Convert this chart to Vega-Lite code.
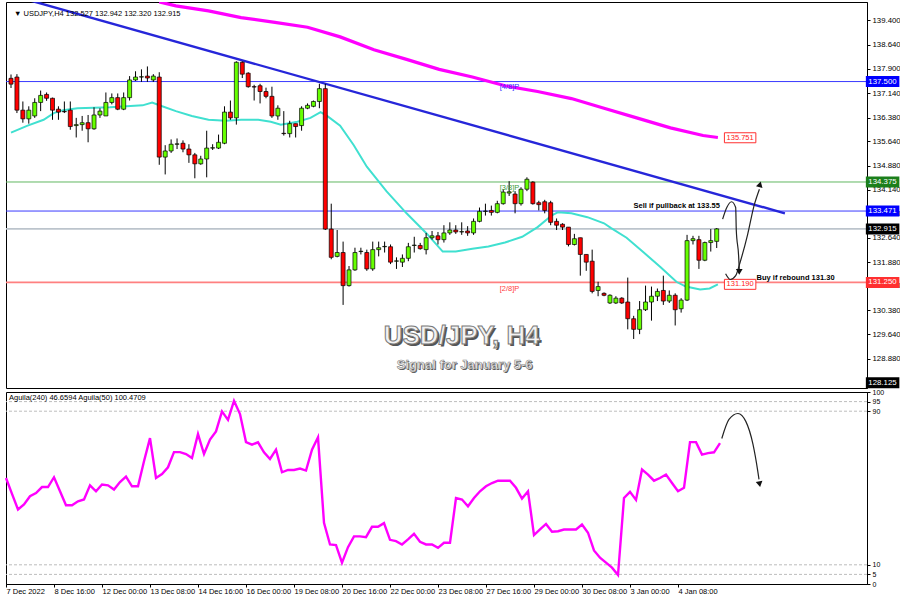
{
"$schema":"https://vega.github.io/schema/vega-lite/v6.json",
"background":"white",
"padding":{"top":1,"left":0,"right":0,"bottom":0},
"spacing":4,
"bounds":"flush",
"config":{
 "view":{"stroke":"#000000","strokeWidth":1},
 "font":"Liberation Sans",
 "axis":{"labelFont":"Liberation Sans","labelFontSize":7.5,"labelColor":"#000000","domainColor":"#000000","tickColor":"#000000","grid":false,"labelOverlap":false,"labelFlush":false}
},
"datasets":{
 "candles":[
  {"i":0,"o":137.6,"h":137.72,"l":137.3,"c":137.42},
  {"i":1,"o":137.64,"h":137.73,"l":136.52,"c":136.61},
  {"i":2,"o":136.61,"h":136.88,"l":136.22,"c":136.34},
  {"i":3,"o":136.34,"h":136.73,"l":136.19,"c":136.61},
  {"i":4,"o":136.43,"h":136.98,"l":136.37,"c":136.85},
  {"i":5,"o":136.85,"h":137.22,"l":136.58,"c":137.07},
  {"i":6,"o":137.1,"h":137.16,"l":136.9,"c":136.98},
  {"i":7,"o":136.98,"h":137.0,"l":136.31,"c":136.61},
  {"i":8,"o":136.64,"h":136.73,"l":136.31,"c":136.55},
  {"i":9,"o":136.57,"h":136.88,"l":136.52,"c":136.56},
  {"i":10,"o":136.61,"h":136.88,"l":136.0,"c":136.1},
  {"i":11,"o":136.13,"h":136.37,"l":135.76,"c":136.16},
  {"i":12,"o":136.16,"h":136.43,"l":135.97,"c":136.22},
  {"i":13,"o":136.22,"h":136.46,"l":135.61,"c":136.03},
  {"i":14,"o":136.03,"h":136.7,"l":136.0,"c":136.46},
  {"i":15,"o":136.46,"h":136.67,"l":136.37,"c":136.58},
  {"i":16,"o":136.43,"h":137.16,"l":136.43,"c":136.85},
  {"i":17,"o":136.85,"h":137.13,"l":136.79,"c":137.0},
  {"i":18,"o":137.0,"h":137.13,"l":136.61,"c":136.64},
  {"i":19,"o":136.64,"h":137.16,"l":136.61,"c":137.0},
  {"i":20,"o":137.0,"h":137.67,"l":136.91,"c":137.55},
  {"i":21,"o":137.55,"h":137.82,"l":137.52,"c":137.64},
  {"i":22,"o":137.64,"h":137.88,"l":137.49,"c":137.65},
  {"i":23,"o":137.67,"h":137.97,"l":137.49,"c":137.61},
  {"i":24,"o":137.55,"h":137.73,"l":137.49,"c":137.67},
  {"i":25,"o":137.64,"h":137.79,"l":134.91,"c":135.15},
  {"i":26,"o":135.15,"h":135.52,"l":134.61,"c":135.34},
  {"i":27,"o":135.34,"h":135.7,"l":135.28,"c":135.55},
  {"i":28,"o":135.55,"h":135.73,"l":135.4,"c":135.56},
  {"i":29,"o":135.58,"h":135.67,"l":135.3,"c":135.4},
  {"i":30,"o":135.4,"h":135.55,"l":134.97,"c":135.22},
  {"i":31,"o":135.22,"h":135.28,"l":134.49,"c":134.94},
  {"i":32,"o":134.94,"h":135.19,"l":134.91,"c":135.09},
  {"i":33,"o":135.09,"h":135.97,"l":134.52,"c":135.43},
  {"i":34,"o":135.43,"h":135.55,"l":135.37,"c":135.44},
  {"i":35,"o":135.43,"h":135.85,"l":135.4,"c":135.61},
  {"i":36,"o":135.58,"h":136.73,"l":135.55,"c":136.55},
  {"i":37,"o":136.55,"h":136.91,"l":136.31,"c":136.37},
  {"i":38,"o":136.37,"h":138.13,"l":136.16,"c":138.1},
  {"i":39,"o":138.1,"h":138.13,"l":137.61,"c":137.73},
  {"i":40,"o":137.76,"h":137.79,"l":137.31,"c":137.34},
  {"i":41,"o":137.34,"h":137.4,"l":136.91,"c":137.33},
  {"i":42,"o":137.37,"h":137.43,"l":136.82,"c":137.19},
  {"i":43,"o":137.19,"h":137.31,"l":136.98,"c":137.04},
  {"i":44,"o":137.04,"h":137.34,"l":136.37,"c":136.43},
  {"i":45,"o":136.43,"h":136.76,"l":136.31,"c":136.67},
  {"i":46,"o":135.89,"h":136.58,"l":135.82,"c":135.88},
  {"i":47,"o":135.88,"h":136.28,"l":135.76,"c":136.19},
  {"i":48,"o":136.19,"h":136.19,"l":135.76,"c":136.1},
  {"i":49,"o":136.13,"h":136.73,"l":135.97,"c":136.67},
  {"i":50,"o":136.67,"h":136.82,"l":136.64,"c":136.76},
  {"i":51,"o":136.73,"h":136.91,"l":136.7,"c":136.88},
  {"i":52,"o":136.88,"h":137.43,"l":136.67,"c":137.28},
  {"i":53,"o":137.28,"h":137.43,"l":132.88,"c":132.91},
  {"i":54,"o":132.91,"h":133.7,"l":131.97,"c":132.03},
  {"i":55,"o":132.06,"h":132.88,"l":132.03,"c":132.18},
  {"i":56,"o":132.18,"h":132.52,"l":130.55,"c":131.15},
  {"i":57,"o":131.15,"h":131.76,"l":131.12,"c":131.64},
  {"i":58,"o":131.64,"h":132.33,"l":131.61,"c":132.18},
  {"i":59,"o":132.21,"h":132.33,"l":132.12,"c":132.22},
  {"i":60,"o":132.18,"h":132.27,"l":131.61,"c":131.67},
  {"i":61,"o":131.67,"h":132.52,"l":131.61,"c":132.27},
  {"i":62,"o":132.27,"h":132.52,"l":132.06,"c":132.33},
  {"i":63,"o":132.36,"h":132.52,"l":132.18,"c":132.37},
  {"i":64,"o":132.36,"h":132.43,"l":131.82,"c":131.88},
  {"i":65,"o":131.91,"h":132.03,"l":131.67,"c":131.92},
  {"i":66,"o":131.88,"h":132.12,"l":131.73,"c":132.0},
  {"i":67,"o":132.0,"h":132.48,"l":131.91,"c":132.36},
  {"i":68,"o":132.4,"h":132.67,"l":132.18,"c":132.41},
  {"i":69,"o":132.4,"h":132.48,"l":132.27,"c":132.3},
  {"i":70,"o":132.27,"h":132.79,"l":132.12,"c":132.64},
  {"i":71,"o":132.64,"h":132.85,"l":132.58,"c":132.7},
  {"i":72,"o":132.7,"h":132.82,"l":132.43,"c":132.58},
  {"i":73,"o":132.58,"h":133.03,"l":132.49,"c":132.79},
  {"i":74,"o":132.79,"h":133.12,"l":132.73,"c":132.88},
  {"i":75,"o":132.88,"h":133.03,"l":132.76,"c":132.82},
  {"i":76,"o":132.82,"h":133.12,"l":132.73,"c":132.83},
  {"i":77,"o":132.85,"h":133.0,"l":132.7,"c":132.79},
  {"i":78,"o":132.79,"h":133.24,"l":132.73,"c":133.15},
  {"i":79,"o":133.15,"h":133.58,"l":133.12,"c":133.46},
  {"i":80,"o":133.46,"h":133.7,"l":133.33,"c":133.47},
  {"i":81,"o":133.49,"h":133.64,"l":133.33,"c":133.43},
  {"i":82,"o":133.43,"h":133.79,"l":133.4,"c":133.7},
  {"i":83,"o":133.7,"h":134.15,"l":133.67,"c":134.06},
  {"i":84,"o":134.03,"h":134.4,"l":133.94,"c":134.07},
  {"i":85,"o":134.0,"h":134.09,"l":133.4,"c":133.7},
  {"i":86,"o":133.7,"h":134.21,"l":133.64,"c":134.15},
  {"i":87,"o":134.15,"h":134.52,"l":134.09,"c":134.46},
  {"i":88,"o":134.37,"h":134.4,"l":133.67,"c":133.7},
  {"i":89,"o":133.73,"h":133.79,"l":133.49,"c":133.67},
  {"i":90,"o":133.76,"h":133.82,"l":133.4,"c":133.49},
  {"i":91,"o":133.73,"h":133.79,"l":133.03,"c":133.12},
  {"i":92,"o":133.15,"h":133.24,"l":132.88,"c":133.03},
  {"i":93,"o":133.06,"h":133.09,"l":132.88,"c":132.97},
  {"i":94,"o":132.97,"h":132.97,"l":132.37,"c":132.43},
  {"i":95,"o":132.43,"h":132.76,"l":132.4,"c":132.61},
  {"i":96,"o":132.64,"h":132.64,"l":131.46,"c":132.12},
  {"i":97,"o":132.12,"h":132.12,"l":131.61,"c":131.88},
  {"i":98,"o":131.91,"h":132.27,"l":130.91,"c":130.97},
  {"i":99,"o":131.0,"h":131.27,"l":130.82,"c":131.12},
  {"i":100,"o":130.91,"h":130.94,"l":130.82,"c":130.85},
  {"i":101,"o":130.61,"h":130.88,"l":130.58,"c":130.85},
  {"i":102,"o":130.61,"h":130.82,"l":130.58,"c":130.76},
  {"i":103,"o":130.76,"h":130.79,"l":130.58,"c":130.61},
  {"i":104,"o":130.64,"h":131.4,"l":129.79,"c":130.12},
  {"i":105,"o":130.12,"h":130.21,"l":129.49,"c":129.79},
  {"i":106,"o":129.79,"h":130.67,"l":129.64,"c":130.4},
  {"i":107,"o":130.4,"h":131.15,"l":130.36,"c":130.64},
  {"i":108,"o":130.64,"h":131.12,"l":130.06,"c":130.82},
  {"i":109,"o":130.82,"h":131.06,"l":130.67,"c":130.97},
  {"i":110,"o":131.0,"h":131.46,"l":130.55,"c":130.67},
  {"i":111,"o":130.67,"h":131.0,"l":130.61,"c":130.85},
  {"i":112,"o":130.85,"h":130.91,"l":129.91,"c":130.4},
  {"i":113,"o":130.43,"h":130.76,"l":130.31,"c":130.7},
  {"i":114,"o":130.7,"h":132.73,"l":130.67,"c":132.55},
  {"i":115,"o":132.55,"h":132.7,"l":132.43,"c":132.61},
  {"i":116,"o":132.58,"h":132.7,"l":131.67,"c":131.94},
  {"i":117,"o":131.94,"h":132.52,"l":131.91,"c":132.49},
  {"i":118,"o":132.49,"h":132.91,"l":132.21,"c":132.55},
  {"i":119,"o":132.527,"h":132.942,"l":132.32,"c":132.915}
 ],
 "ma240":[
  {"i":25,"p":139.98},{"i":27.8,"p":139.855},{"i":33.3,"p":139.7},{"i":38.8,"p":139.49},{"i":44.5,"p":139.34},{"i":50,"p":139.19},{"i":55.5,"p":138.89},{"i":61.2,"p":138.49},{"i":66.7,"p":138.19},{"i":72.2,"p":137.88},{"i":77.8,"p":137.64},{"i":83.3,"p":137.37},{"i":88.8,"p":137.19},{"i":94.5,"p":136.97},{"i":100,"p":136.67},{"i":105.5,"p":136.37},{"i":111.2,"p":136.06},{"i":116.7,"p":135.82},{"i":119.2,"p":135.76}
 ],
 "ma50":[
  {"i":0,"p":135.91},{"i":2.8,"p":136.13},{"i":5.5,"p":136.31},{"i":7.2,"p":136.52},{"i":8.8,"p":136.61},{"i":11.2,"p":136.67},{"i":16.7,"p":136.7},{"i":22.2,"p":136.76},{"i":23.8,"p":136.85},{"i":25.5,"p":136.73},{"i":27.8,"p":136.58},{"i":30.5,"p":136.43},{"i":33.3,"p":136.31},{"i":36.2,"p":136.28},{"i":38.8,"p":136.31},{"i":41.7,"p":136.31},{"i":43.8,"p":136.25},{"i":45.5,"p":136.16},{"i":48.3,"p":136.25},{"i":50.5,"p":136.37},{"i":52.2,"p":136.55},{"i":53.3,"p":136.43},{"i":55.5,"p":136.13},{"i":57.8,"p":135.52},{"i":60,"p":134.85},{"i":63.3,"p":134.09},{"i":66.7,"p":133.4},{"i":70,"p":132.79},{"i":72.8,"p":132.21},{"i":75,"p":132.21},{"i":77.8,"p":132.3},{"i":80.5,"p":132.37},{"i":83.3,"p":132.49},{"i":86.2,"p":132.67},{"i":88.8,"p":132.97},{"i":91.2,"p":133.34},{"i":92.2,"p":133.43},{"i":94.5,"p":133.4},{"i":97.2,"p":133.28},{"i":100,"p":133.09},{"i":101.2,"p":132.94},{"i":103.8,"p":132.64},{"i":106.7,"p":132.18},{"i":109.5,"p":131.73},{"i":112.2,"p":131.27},{"i":113.8,"p":131.12},{"i":116.2,"p":131.03},{"i":117.8,"p":131.06},{"i":119.2,"p":131.19}
 ],
 "trend":[{"i":0,"p":140.19},{"i":130.5,"p":133.4}],
 "arrows":[
  {"s":"sell","i":120.0,"p":133.22},{"s":"sell","i":120.7,"p":133.58},{"s":"sell","i":121.5,"p":133.76},{"s":"sell","i":122.2,"p":133.58},{"s":"sell","i":122.3,"p":132.88},{"s":"sell","i":122.7,"p":132.06},{"s":"sell","i":122.8,"p":131.67},
  {"s":"buy","i":120.5,"p":131.52},{"s":"buy","i":121.3,"p":131.34},{"s":"buy","i":122.2,"p":131.46},{"s":"buy","i":123.0,"p":131.91},{"s":"buy","i":124.2,"p":132.73},{"s":"buy","i":125.3,"p":133.64},{"s":"buy","i":126.2,"p":134.15}
 ],
 "osc":[
  {"i":0,"v":55.2},{"i":1,"v":46.9},{"i":2,"v":38.8},{"i":3,"v":41.4},{"i":4,"v":45.7},{"i":5,"v":47.4},{"i":6,"v":50.5},{"i":7,"v":50.5},{"i":8,"v":55.6},{"i":9,"v":48.3},{"i":10,"v":41.0},{"i":11,"v":41.0},{"i":12,"v":43.1},{"i":13,"v":44.0},{"i":14,"v":51.4},{"i":15,"v":48.3},{"i":16,"v":51.8},{"i":17,"v":51.4},{"i":18,"v":49.2},{"i":19,"v":53.1},{"i":20,"v":55.9},{"i":21,"v":50.9},{"i":22,"v":50.9},{"i":23,"v":63.9},{"i":24,"v":76.0},{"i":25,"v":55.2},{"i":26,"v":57.3},{"i":27,"v":60.8},{"i":28,"v":68.7},{"i":29,"v":68.7},{"i":30,"v":67.7},{"i":31,"v":65.6},{"i":32,"v":78.1},{"i":33,"v":67.7},{"i":34,"v":75.2},{"i":35,"v":79.5},{"i":36,"v":89.9},{"i":37,"v":85.5},{"i":38,"v":95.4},{"i":39,"v":88.5},{"i":40,"v":73.9},{"i":41,"v":72.6},{"i":42,"v":73.8},{"i":43,"v":68.6},{"i":44,"v":65.1},{"i":45,"v":70.0},{"i":46,"v":58.2},{"i":47,"v":59.4},{"i":48,"v":59.4},{"i":49,"v":60.1},{"i":50,"v":59.1},{"i":51,"v":70.0},{"i":52,"v":76.4},{"i":53,"v":31.9},{"i":54,"v":20.6},{"i":55,"v":20.3},{"i":56,"v":11.1},{"i":57,"v":19.2},{"i":58,"v":24.8},{"i":59,"v":24.8},{"i":60,"v":24.4},{"i":61,"v":29.8},{"i":62,"v":29.8},{"i":63,"v":31.7},{"i":64,"v":23.0},{"i":65,"v":22.3},{"i":66,"v":20.6},{"i":67,"v":23.2},{"i":68,"v":26.1},{"i":69,"v":22.0},{"i":70,"v":20.6},{"i":71,"v":20.6},{"i":72,"v":18.8},{"i":73,"v":21.5},{"i":74,"v":21.5},{"i":75,"v":44.8},{"i":76,"v":44.0},{"i":77,"v":40.5},{"i":78,"v":44.8},{"i":79,"v":48.3},{"i":80,"v":50.9},{"i":81,"v":52.6},{"i":82,"v":53.8},{"i":83,"v":53.8},{"i":84,"v":53.8},{"i":85,"v":50.1},{"i":86,"v":44.5},{"i":87,"v":48.3},{"i":88,"v":25.5},{"i":89,"v":28.4},{"i":90,"v":31.3},{"i":91,"v":27.2},{"i":92,"v":27.5},{"i":93,"v":28.4},{"i":94,"v":28.4},{"i":95,"v":28.4},{"i":96,"v":31.0},{"i":97,"v":26.7},{"i":98,"v":17.5},{"i":99,"v":13.7},{"i":100,"v":11.1},{"i":101,"v":8.5},{"i":102,"v":4.7},{"i":103,"v":44.8},{"i":104,"v":48.0},{"i":105,"v":43.8},{"i":106,"v":59.6},{"i":107,"v":57.0},{"i":108,"v":53.8},{"i":109,"v":55.2},{"i":110,"v":57.0},{"i":111,"v":52.6},{"i":112,"v":48.3},{"i":113,"v":50.1},{"i":114,"v":73.9},{"i":115,"v":73.9},{"i":116,"v":67.4},{"i":117,"v":68.2},{"i":118,"v":68.6},{"i":119,"v":73.4}
 ],
 "oscArrow":[
  {"i":119.3,"v":75.8},{"i":120.5,"v":85.7},{"i":122.0,"v":88.8},{"i":123.3,"v":84.7},{"i":124.5,"v":72.7},{"i":125.3,"v":58.7},{"i":125.5,"v":54.5}
 ]
},
"vconcat":[
 {
  "width":861,"height":386,
  "layer":[
   {"data":{"values":[{"p":137.5}]},"mark":{"type":"rule","color":"#3a3aff","strokeWidth":1},
    "encoding":{"y":{"field":"p","type":"quantitative","title":null,
      "scale":{"domain":[128.12,139.82],"nice":false,"zero":false},
      "axis":{"orient":"right","values":[139.4,138.64,137.9,137.14,136.38,135.64,134.88,134.14,133.38,132.64,131.88,131.14,130.38,129.64,128.88],"tickCount":100,"format":".3f","tickSize":3,"labelPadding":2,"labelOverlap":false,"labelFontSize":7.8}}}},
   {"data":{"values":[{"p":134.375}]},"mark":{"type":"rule","color":"#62b862","strokeWidth":1},"encoding":{"y":{"field":"p","type":"quantitative","title":null}}},
   {"data":{"values":[{"p":133.471}]},"mark":{"type":"rule","color":"#3a3aff","strokeWidth":1},"encoding":{"y":{"field":"p","type":"quantitative","title":null}}},
   {"data":{"values":[{"p":132.915}]},"mark":{"type":"rule","color":"#bcc4cc","strokeWidth":1.6},"encoding":{"y":{"field":"p","type":"quantitative","title":null}}},
   {"data":{"values":[{"p":131.25}]},"mark":{"type":"rule","color":"#ff8080","strokeWidth":1.6},"encoding":{"y":{"field":"p","type":"quantitative","title":null}}},
   {"data":{"name":"ma50"},"mark":{"type":"line","color":"#40e0d0","strokeWidth":2,"clip":true},
    "encoding":{"x":{"field":"i","type":"quantitative","title":null,"scale":{"domain":[0,143.5],"nice":false,"zero":false},"axis":null},
     "y":{"field":"p","type":"quantitative","title":null}}},
   {"data":{"name":"ma240"},"mark":{"type":"line","color":"#ff00ff","strokeWidth":3.2,"clip":true},
    "encoding":{"x":{"field":"i","type":"quantitative","title":null},"y":{"field":"p","type":"quantitative","title":null}}},
   {"data":{"name":"trend"},"mark":{"type":"line","color":"#2626d9","strokeWidth":2.4,"clip":true},
    "encoding":{"x":{"field":"i","type":"quantitative","title":null},"y":{"field":"p","type":"quantitative","title":null}}},
   {"data":{"name":"candles"},"mark":{"type":"rule","color":"#000000","strokeWidth":1,"clip":true},
    "encoding":{"x":{"field":"i","type":"quantitative","title":null},"y":{"field":"l","type":"quantitative","title":null},"y2":{"field":"h"}}},
   {"data":{"name":"candles"},"mark":{"type":"bar","width":4,"stroke":"#000000","strokeWidth":0.7,"clip":true},
    "encoding":{"x":{"field":"i","type":"quantitative","title":null},"y":{"field":"o","type":"quantitative","title":null},"y2":{"field":"c"},
     "fill":{"condition":{"test":"datum.c >= datum.o","value":"#66ff00"},"value":"#ff0000"}}},
   {"data":{"values":[{"t":"[4/8]P","p":137.28},{"t":"[3/8]P","p":134.12},{"t":"[2/8]P","p":130.97}]},
    "mark":{"type":"text","align":"left","baseline":"alphabetic","fontSize":7.5},
    "encoding":{"x":{"datum":82.4,"type":"quantitative"},"y":{"field":"p","type":"quantitative","title":null},"text":{"field":"t"},
     "color":{"field":"t","type":"nominal","scale":{"domain":["[4/8]P","[3/8]P","[2/8]P"],"range":["#3030ff","#3a9a3a","#ff4040"]},"legend":null}}},
   {"data":{"values":[{"p":135.751},{"p":131.19}]},"mark":{"type":"bar","height":10,"fill":"#ffffff","stroke":"#ff3030","strokeWidth":1},
    "encoding":{"x":{"datum":120.3,"type":"quantitative"},"x2":{"datum":125.6},"y":{"field":"p","type":"quantitative","title":null}}},
   {"data":{"values":[{"p":135.751},{"p":131.19}]},"mark":{"type":"text","align":"center","baseline":"middle","fontSize":7.5,"color":"#ff2020"},
    "encoding":{"x":{"datum":122.95,"type":"quantitative"},"y":{"field":"p","type":"quantitative","title":null},"text":{"field":"p","type":"quantitative","format":".3f"}}},
   {"data":{"values":[{"p":137.5,"k":"blue"},{"p":134.375,"k":"green"},{"p":133.471,"k":"blue"},{"p":132.915,"k":"black"},{"p":131.25,"k":"red"},{"p":128.125,"k":"black"}]},
    "mark":{"type":"bar","height":11},
    "encoding":{"x":{"datum":144.15,"type":"quantitative"},"x2":{"datum":149.8},"y":{"field":"p","type":"quantitative","title":null},
     "fill":{"field":"k","type":"nominal","scale":{"domain":["blue","green","black","red"],"range":["#0000ff","#1b7f1b","#000000","#ff3030"]},"legend":null}}},
   {"data":{"values":[{"p":137.5},{"p":134.375},{"p":133.471},{"p":132.915},{"p":131.25},{"p":128.125}]},
    "mark":{"type":"text","align":"center","baseline":"middle","fontSize":7.8,"color":"#ffffff"},
    "encoding":{"x":{"datum":146.95,"type":"quantitative"},"y":{"field":"p","type":"quantitative","title":null},"text":{"field":"p","type":"quantitative","format":".3f"}}},
   {"data":{"values":[{"t":"▼ USDJPY,H4 132.527 132.942 132.320 132.915"}]},
    "mark":{"type":"text","align":"left","baseline":"middle","fontSize":7.5,"color":"#000000"},
    "encoding":{"x":{"datum":0.5,"type":"quantitative"},"y":{"datum":139.6,"type":"quantitative"},"text":{"field":"t"}}},
   {"data":{"values":[{"t":"Sell if pullback at 133.55"}]},
    "mark":{"type":"text","align":"center","baseline":"alphabetic","fontSize":7.5,"fontWeight":"bold","color":"#000000"},
    "encoding":{"x":{"datum":112.25,"type":"quantitative"},"y":{"datum":133.58,"type":"quantitative"},"text":{"field":"t"}}},
   {"data":{"values":[{"t":"Buy if rebound 131.30"}]},
    "mark":{"type":"text","align":"center","baseline":"alphabetic","fontSize":7.5,"fontWeight":"bold","color":"#000000"},
    "encoding":{"x":{"datum":132.3,"type":"quantitative"},"y":{"datum":131.34,"type":"quantitative"},"text":{"field":"t"}}},
   {"data":{"values":[{"t":"USD/JPY, H4"}]},
    "mark":{"type":"text","align":"center","baseline":"alphabetic","fontSize":26,"fontWeight":"bold","color":"#555555","dx":2,"dy":2},
    "encoding":{"x":{"datum":76,"type":"quantitative"},"y":{"datum":129.33,"type":"quantitative"},"text":{"field":"t"}}},
   {"data":{"values":[{"t":"USD/JPY, H4"}]},
    "mark":{"type":"text","align":"center","baseline":"alphabetic","fontSize":26,"fontWeight":"bold","fill":"#f2f2f2","stroke":"#7a7a7a","strokeWidth":1},
    "encoding":{"x":{"datum":76,"type":"quantitative"},"y":{"datum":129.33,"type":"quantitative"},"text":{"field":"t"}}},
   {"data":{"values":[{"t":"Signal for January 5-6"}]},
    "mark":{"type":"text","align":"center","baseline":"alphabetic","fontSize":13,"fontWeight":"bold","color":"#555555","dx":1,"dy":1},
    "encoding":{"x":{"datum":76.5,"type":"quantitative"},"y":{"datum":128.55,"type":"quantitative"},"text":{"field":"t"}}},
   {"data":{"values":[{"t":"Signal for January 5-6"}]},
    "mark":{"type":"text","align":"center","baseline":"alphabetic","fontSize":13,"fontWeight":"bold","fill":"#f2f2f2","stroke":"#8a8a8a","strokeWidth":0.6},
    "encoding":{"x":{"datum":76.5,"type":"quantitative"},"y":{"datum":128.55,"type":"quantitative"},"text":{"field":"t"}}},
   {"data":{"name":"arrows"},"mark":{"type":"line","color":"#222222","strokeWidth":1.2,"interpolate":"monotone"},
    "encoding":{"x":{"field":"i","type":"quantitative","title":null},"y":{"field":"p","type":"quantitative","title":null},"detail":{"field":"s"}}},
   {"data":{"values":[{"i":122.8,"p":131.58}]},"mark":{"type":"point","shape":"triangle-down","filled":true,"color":"#111111","size":45,"opacity":1},
    "encoding":{"x":{"field":"i","type":"quantitative","title":null},"y":{"field":"p","type":"quantitative","title":null}}},
   {"data":{"values":[{"i":126.3,"p":134.3}]},"mark":{"type":"point","shape":"triangle-up","filled":true,"color":"#111111","size":45,"opacity":1,"angle":15},
    "encoding":{"x":{"field":"i","type":"quantitative","title":null},"y":{"field":"p","type":"quantitative","title":null}}}
  ]
 },
 {
  "width":861,"height":192,
  "layer":[
   {"data":{"values":[{"v":5},{"v":10},{"v":90},{"v":95}]},"mark":{"type":"rule","color":"#bdbdbd","strokeWidth":1,"strokeDash":[3,2]},
    "encoding":{"y":{"field":"v","type":"quantitative","title":null,"scale":{"domain":[0,100],"nice":false,"zero":false},
     "axis":{"orient":"right","values":[0,5,10,90,95,100],"tickCount":100,"tickSize":3,"labelPadding":2,"labelFontSize":7,"labelOverlap":false}}}},
   {"data":{"name":"osc"},"mark":{"type":"line","color":"#ff00ff","strokeWidth":2.4},
    "encoding":{"x":{"field":"i","type":"quantitative","title":null,"scale":{"domain":[0,143.5],"nice":false,"zero":false},
      "axis":{"values":[0,8,16,24,32,40,48,56,64,72,80,88,96,104,112],"tickCount":100,"labelAlign":"left","labelPadding":0,"tickSize":3,"labelFontSize":7.5,"labelOverlap":false,
       "labelExpr":"['7 Dec 2022','8 Dec 16:00','12 Dec 00:00','13 Dec 08:00','14 Dec 16:00','16 Dec 00:00','19 Dec 08:00','20 Dec 16:00','22 Dec 00:00','23 Dec 08:00','27 Dec 16:00','29 Dec 00:00','30 Dec 08:00','3 Jan 00:00','4 Jan 08:00'][round(datum.value/8)]"}},
     "y":{"field":"v","type":"quantitative","title":null}}},
   {"data":{"name":"oscArrow"},"mark":{"type":"line","color":"#222222","strokeWidth":1.2,"interpolate":"monotone"},
    "encoding":{"x":{"field":"i","type":"quantitative","title":null},"y":{"field":"v","type":"quantitative","title":null}}},
   {"data":{"values":[{"i":125.6,"v":52}]},"mark":{"type":"point","shape":"triangle-down","filled":true,"color":"#111111","size":45,"opacity":1,"angle":-10},
    "encoding":{"x":{"field":"i","type":"quantitative","title":null},"y":{"field":"v","type":"quantitative","title":null}}},
   {"data":{"values":[{"t":"Aguila(240) 46.6594  Aguila(50) 100.4709"}]},
    "mark":{"type":"text","align":"left","baseline":"middle","fontSize":7.5,"color":"#000000"},
    "encoding":{"x":{"datum":0.5,"type":"quantitative"},"y":{"datum":97,"type":"quantitative"},"text":{"field":"t"}}}
  ]
 }
]
}
